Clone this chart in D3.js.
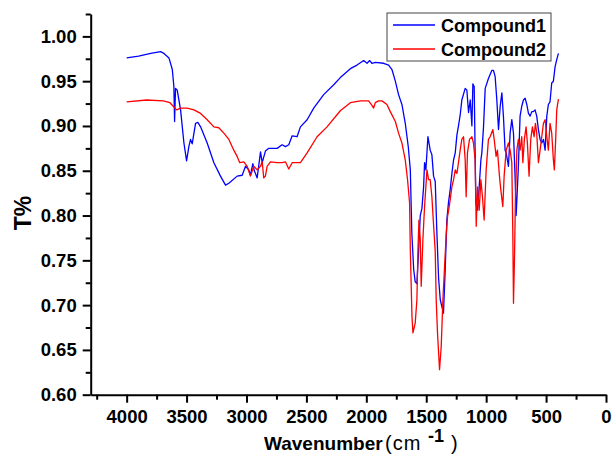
<!DOCTYPE html>
<html>
<head>
<meta charset="utf-8">
<script src="https://cdn.jsdelivr.net/npm/d3@7"></script>
<style>
  body { margin: 0; background: #fff; }
  text { font-family: "Liberation Sans", Arial, sans-serif; }
</style>
</head>
<body>
<div id="chart"></div>
<script>
// Compound1 (blue) spectrum
const compound1Wn = [4000, 3900, 3800, 3717, 3689, 3647, 3619, 3606, 3600, 3592, 3578, 3550, 3522, 3500, 3481, 3467, 3453, 3425, 3406, 3383,
  3328, 3272, 3217, 3175, 3147, 3078, 3036, 3008, 2981, 2967, 2947, 2935, 2925, 2911, 2883, 2869, 2842, 2814, 2744, 2703,
  2675, 2647, 2619, 2578, 2550, 2494, 2439, 2356, 2272, 2217, 2133, 2078, 2022, 1994, 1972, 1953, 1925, 1856, 1814, 1786,
  1758, 1731, 1703, 1675, 1650, 1633, 1620, 1605, 1592, 1578, 1564, 1550, 1536, 1522, 1514, 1503, 1486, 1467, 1453, 1439,
  1425, 1411, 1397, 1383, 1369, 1356, 1342, 1328, 1314, 1300, 1286, 1272, 1258, 1244, 1231, 1217, 1203, 1175, 1161, 1147,
  1133, 1119, 1111, 1100, 1086, 1072, 1058, 1044, 1036, 1022, 1008, 981, 953, 939, 925, 911, 897, 883, 869, 856,
  842, 833, 814, 800, 786, 772, 758, 750, 744, 731, 717, 703, 689, 675, 661, 647, 633, 619, 606, 592,
  578, 564, 550, 536, 522, 508, 494, 481, 467, 453, 439, 425, 411, 397];
const compound1T = [0.976, 0.978, 0.981, 0.983, 0.981, 0.976, 0.963, 0.944, 0.905, 0.942, 0.940, 0.918, 0.881, 0.861, 0.877, 0.885, 0.880, 0.903, 0.904, 0.899,
  0.881, 0.859, 0.844, 0.834, 0.836, 0.844, 0.845, 0.855, 0.851, 0.845, 0.858, 0.850, 0.847, 0.842, 0.871, 0.859, 0.872, 0.875, 0.875, 0.879,
  0.877, 0.879, 0.889, 0.888, 0.899, 0.907, 0.920, 0.935, 0.946, 0.954, 0.964, 0.968, 0.973, 0.970, 0.973, 0.970, 0.971, 0.970, 0.968, 0.963,
  0.950, 0.935, 0.924, 0.903, 0.877, 0.851, 0.780, 0.740, 0.726, 0.724, 0.760, 0.800, 0.808, 0.832, 0.859, 0.851, 0.888, 0.873, 0.868, 0.844,
  0.838, 0.780, 0.730, 0.706, 0.698, 0.691, 0.739, 0.795, 0.815, 0.829, 0.847, 0.862, 0.870, 0.890, 0.900, 0.912, 0.929, 0.942, 0.940, 0.915,
  0.929, 0.900, 0.947, 0.944, 0.814, 0.806, 0.832, 0.862, 0.870, 0.899, 0.942, 0.953, 0.962, 0.962, 0.955, 0.929, 0.896, 0.922, 0.937, 0.911,
  0.873, 0.870, 0.855, 0.892, 0.907, 0.892, 0.840, 0.800, 0.817, 0.855, 0.911, 0.922, 0.929, 0.931, 0.924, 0.914, 0.911, 0.916, 0.916, 0.918,
  0.911, 0.896, 0.885, 0.881, 0.885, 0.873, 0.911, 0.924, 0.927, 0.948, 0.950, 0.966, 0.974, 0.981];

// Compound2 (red) spectrum
const compound2Wn = [4000, 3833, 3694, 3639, 3611, 3583, 3550, 3494, 3439, 3383, 3328, 3272, 3231, 3189, 3147, 3106, 3078, 3056, 3022, 2994,
  2967, 2939, 2911, 2883, 2869, 2856, 2842, 2828, 2800, 2744, 2703, 2675, 2647, 2619, 2550, 2494, 2411, 2328, 2217, 2133,
  2050, 1981, 1953, 1939, 1925, 1897, 1869, 1828, 1800, 1758, 1731, 1703, 1675, 1656, 1639, 1633, 1619, 1611, 1592, 1578,
  1569, 1561, 1550, 1542, 1528, 1514, 1494, 1481, 1467, 1453, 1439, 1425, 1417, 1406, 1389, 1375, 1361, 1347, 1333, 1322,
  1306, 1286, 1272, 1258, 1244, 1231, 1217, 1203, 1189, 1175, 1167, 1156, 1139, 1119, 1106, 1092, 1083, 1072, 1058, 1044,
  1031, 1017, 1000, 981, 967, 944, 933, 917, 906, 889, 878, 861, 850, 833, 814, 800, 786, 778, 772, 764,
  756, 744, 731, 717, 703, 694, 681, 667, 656, 642, 628, 614, 600, 589, 578, 564, 550, 536, 522, 508,
  494, 481, 467, 453, 439, 431, 419, 411, 397];
const compound2T = [0.927, 0.929, 0.928, 0.926, 0.922, 0.918, 0.920, 0.920, 0.918, 0.914, 0.907, 0.899, 0.898, 0.892, 0.885, 0.873, 0.866, 0.859, 0.860, 0.855,
  0.844, 0.855, 0.851, 0.855, 0.860, 0.842, 0.844, 0.855, 0.860, 0.859, 0.859, 0.860, 0.852, 0.859, 0.859, 0.870, 0.888, 0.899, 0.917, 0.926,
  0.928, 0.928, 0.923, 0.920, 0.926, 0.928, 0.928, 0.924, 0.916, 0.905, 0.892, 0.881, 0.862, 0.840, 0.814, 0.762, 0.687, 0.669, 0.680, 0.706,
  0.762, 0.795, 0.773, 0.721, 0.773, 0.810, 0.851, 0.840, 0.840, 0.821, 0.790, 0.760, 0.706, 0.669, 0.628, 0.654, 0.706, 0.743, 0.780, 0.799,
  0.812, 0.832, 0.840, 0.851, 0.847, 0.859, 0.873, 0.885, 0.888, 0.862, 0.821, 0.870, 0.885, 0.888, 0.881, 0.862, 0.788, 0.832, 0.806, 0.840,
  0.821, 0.795, 0.851, 0.885, 0.888, 0.896, 0.885, 0.866, 0.873, 0.844, 0.829, 0.810, 0.844, 0.873, 0.881, 0.873, 0.859, 0.784, 0.702, 0.750,
  0.817, 0.873, 0.885, 0.873, 0.888, 0.859, 0.885, 0.899, 0.881, 0.844, 0.885, 0.899, 0.888, 0.903, 0.892, 0.859, 0.873, 0.888, 0.903, 0.907,
  0.888, 0.873, 0.903, 0.892, 0.862, 0.851, 0.888, 0.918, 0.930];

const seriesNames = ["Compound1", "Compound2"];
const seriesColors = ["#0000ff", "#ff0000"];
const xMajorTicks = [4000, 3500, 3000, 2500, 2000, 1500, 1000, 500, 0];
const yMajorTicks = [0.60, 0.65, 0.70, 0.75, 0.80, 0.85, 0.90, 0.95, 1.00];

const W = 612, H = 459;
const svg = d3.select("#chart").append("svg")
  .attr("width", W).attr("height", H);

const x = d3.scaleLinear().domain([4300, 0]).range([90.7, 606]);
const y = d3.scaleLinear().domain([0.6, 1.025]).range([394.7, 14]);

const xMinor = d3.range(4250, -1, -250).filter(v => v % 500 !== 0);
const yMinor = d3.range(0.625, 1.03, 0.05);

// x axis: minor ticks, then major ticks with labels
const gx = svg.append("g").attr("transform", `translate(0,${y(0.6)})`);
gx.call(d3.axisBottom(x).tickValues(xMinor).tickSize(5).tickFormat("").tickSizeOuter(0));
gx.call(g => g.select(".domain").remove());
const gx2 = svg.append("g").attr("transform", `translate(0,${y(0.6)})`);
gx2.call(d3.axisBottom(x).tickValues(xMajorTicks).tickSize(8).tickPadding(7)
  .tickFormat(d3.format("d")).tickSizeOuter(0));

// y axis
const gy = svg.append("g").attr("transform", `translate(${x(4300)},0)`);
gy.call(d3.axisLeft(y).tickValues(yMinor).tickSize(5).tickFormat("").tickSizeOuter(0));
gy.call(g => g.select(".domain").remove());
const gy2 = svg.append("g").attr("transform", `translate(${x(4300)},0)`);
gy2.call(d3.axisLeft(y).tickValues(yMajorTicks).tickSize(8).tickPadding(6)
  .tickFormat(d3.format(".2f")).tickSizeOuter(0));

svg.selectAll(".domain").attr("stroke-width", 2);
svg.selectAll(".tick line").attr("stroke-width", 2);
svg.selectAll(".tick text")
  .attr("font-size", 18.5).attr("font-weight", "bold")
  .attr("font-family", "'Liberation Sans', Arial, sans-serif").attr("fill", "#000");

// spectra
const line = d3.line().x(d => x(d[0])).y(d => y(d[1]));
const series = [
  d3.zip(compound1Wn, compound1T),
  d3.zip(compound2Wn, compound2T)
];
series.forEach((s, i) => {
  svg.append("path")
    .datum(s)
    .attr("fill", "none")
    .attr("stroke", seriesColors[i])
    .attr("stroke-width", 1.3)
    .attr("stroke-linejoin", "round")
    .attr("d", line);
});

// axis titles
svg.append("text")
  .attr("transform", `translate(31,213) rotate(-90)`)
  .attr("text-anchor", "middle")
  .attr("font-size", 23).attr("font-weight", "bold")
  .text("T%");

const xt = svg.append("text")
  .attr("y", 450)
  .attr("font-size", 19).attr("font-weight", "bold");
xt.append("tspan").attr("x", 264).text("Wavenumber");
xt.append("tspan").attr("x", 385).attr("font-weight", "normal").attr("font-size", 20)
  .attr("letter-spacing", 1).text("(cm");
xt.append("tspan").attr("x", 428).attr("dy", -8).attr("font-size", 18).text("-1");
xt.append("tspan").attr("x", 451).attr("dy", 8).attr("font-weight", "normal").attr("font-size", 20).text(")");

// legend
const legend = svg.append("g");
legend.append("rect")
  .attr("x", 387).attr("y", 13).attr("width", 164).attr("height", 48)
  .attr("fill", "#fff").attr("stroke", "#444").attr("stroke-width", 1);
seriesNames.forEach((name, i) => {
  const ly = 25 + i * 24;
  legend.append("line")
    .attr("x1", 393).attr("x2", 435).attr("y1", ly).attr("y2", ly)
    .attr("stroke", seriesColors[i]).attr("stroke-width", 1.5);
  legend.append("text")
    .attr("x", 441).attr("y", ly + 6.5)
    .attr("font-size", 18).attr("font-weight", "bold")
    .text(name);
});
</script>
</body>
</html>
